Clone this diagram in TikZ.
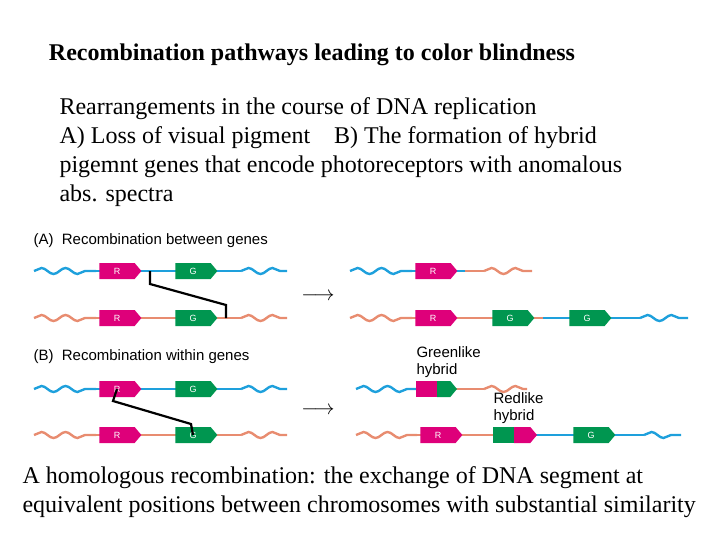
\documentclass[tikz,border=0pt]{standalone}
\usepackage{fontspec}
\setmainfont{Liberation Serif}
\newfontfamily\labelfont{Liberation Sans}
\usetikzlibrary{shapes.symbols,decorations.pathmorphing,positioning}

\definecolor{strandblue}{RGB}{30,160,220}
\definecolor{strandsalmon}{RGB}{232,140,112}
\definecolor{genered}{RGB}{222,0,122}
\definecolor{genegreen}{RGB}{0,150,80}

\begin{document}
\begin{tikzpicture}[x=1pt,y=-1pt,
    gene/.style={signal, signal to=east, signal pointer angle=100, fill=#1,
        draw=none, minimum height=16, minimum width=42, inner sep=0, outer sep=0,
        text=white, font=\labelfont\fontsize{9}{9}\selectfont},
    genebox/.style={rectangle, fill=#1, minimum height=16, inner sep=0, outer sep=0},
    blueline/.style={strandblue, line width=2.4pt},
    salmonline/.style={strandsalmon, line width=2.4pt},
    wave/.style={decorate, decoration={snake, amplitude=3, segment length=24}},
    cross/.style={black, line width=2.2pt},
    lbl/.style={font=\labelfont\fontsize{15}{17}\selectfont, align=left, anchor=west},
    txt/.style={font=\fontsize{24}{29}\selectfont, align=left, anchor=west}
]
\useasboundingbox (0,0) rectangle (720,540);

% =========================
% Text
% =========================
\node[font=\bfseries\fontsize{24}{28}\selectfont] (title) at (312,55)
    {Recombination pathways leading to color blindness};
\node[txt, anchor=north west] (intro) at (56,94)
    {Rearrangements in the course of DNA replication\\
     A) Loss of visual pigment \ \ \ B) The formation of hybrid\\
     pigemnt genes that encode photoreceptors with anomalous\\
     abs. spectra};
\node[txt, anchor=north west] (summary) at (19,463)
    {A homologous recombination: the exchange of DNA segment at\\
     equivalent positions between chromosomes with substantial similarity};

\node[lbl] (labA) at (30,241) {(A)\ \ Recombination between genes};
\node[lbl] (labB) at (30,357) {(B)\ \ Recombination within genes};

% =========================
% (A) left strands
% =========================
\foreach \y/\col/\nm in {271/blue/at, 318/salmon/ab}{
  \draw[\col line, wave] (34,\y) -- (96,\y);
  \draw[\col line] (96,\y) -- (241,\y);
  \draw[\col line, wave] (241,\y) -- (287,\y);
  \node[gene=genered] (\nm R) at (117,\y) {R};
  \node[gene=genegreen] (\nm G) at (193,\y) {G};
}
\draw[cross] (150,271) -- (150,284) -- (226,305) -- (226,318);

% =========================
% (B) left strands
% =========================
\foreach \y/\col/\nm in {389/blue/bt, 435/salmon/bb}{
  \draw[\col line, wave] (34,\y) -- (96,\y);
  \draw[\col line] (96,\y) -- (241,\y);
  \draw[\col line, wave] (241,\y) -- (287,\y);
  \node[gene=genered] (\nm R) at (117,\y) {R};
  \node[gene=genegreen] (\nm G) at (193,\y) {G};
}
\draw[cross] (btR.center) -- (113,401) -- (191,424) -- (bbG.center);

% =========================
% Arrows
% =========================
\node[font=\huge] (arrA) at (318,297) {$\longrightarrow$};
\node[font=\huge] (arrB) at (318,411) {$\longrightarrow$};

% =========================
% (A) right strands
% =========================
\draw[blueline, wave] (350,271) -- (412,271);
\draw[blueline] (412,271) -- (465,271);
\draw[salmonline] (465,271) -- (484,271);
\draw[salmonline, wave] (484,271) -- (532,271);
\node[gene=genered] (arR) at (433,271) {R};

\draw[salmonline, wave] (350,318) -- (412,318);
\draw[salmonline] (412,318) -- (543,318);
\draw[blueline] (543,318) -- (640,318);
\draw[blueline, wave] (640,318) -- (688,318);
\node[gene=genered] (arR2) at (433,318) {R};
\node[gene=genegreen] (arG) at (510,318) {G};
\node[gene=genegreen] (arG2) at (587,318) {G};

% =========================
% (B) right strands
% =========================
\draw[blueline, wave] (356,389) -- (417,389);
\draw[salmonline] (450,389) -- (484,389);
\draw[salmonline, wave] (484,389) -- (527,389);
\node[genebox=genered, minimum width=21, anchor=west] (hyG1) at (416,389) {};
\node[gene=genegreen, minimum width=20, anchor=west] (hyG2) at (hyG1.east) {};
\node[lbl, anchor=south west] (glabel) at (413,381) {Greenlike\\hybrid};

\draw[salmonline, wave] (356,435) -- (417,435);
\draw[salmonline] (417,435) -- (494,435);
\draw[blueline] (536,435) -- (644,435);
\draw[blueline, wave] (644,435) -- (681,435);
\node[gene=genered] (brR) at (438,435) {R};
\node[genebox=genegreen, minimum width=21, anchor=west] (hyR1) at (493,435) {};
\node[gene=genered, minimum width=23, anchor=west] (hyR2) at (hyR1.east) {};
\node[gene=genegreen] (brG) at (591,435) {G};
\node[lbl, anchor=south west] (rlabel) at (490,427) {Redlike\\hybrid};
\end{tikzpicture}
\end{document}
